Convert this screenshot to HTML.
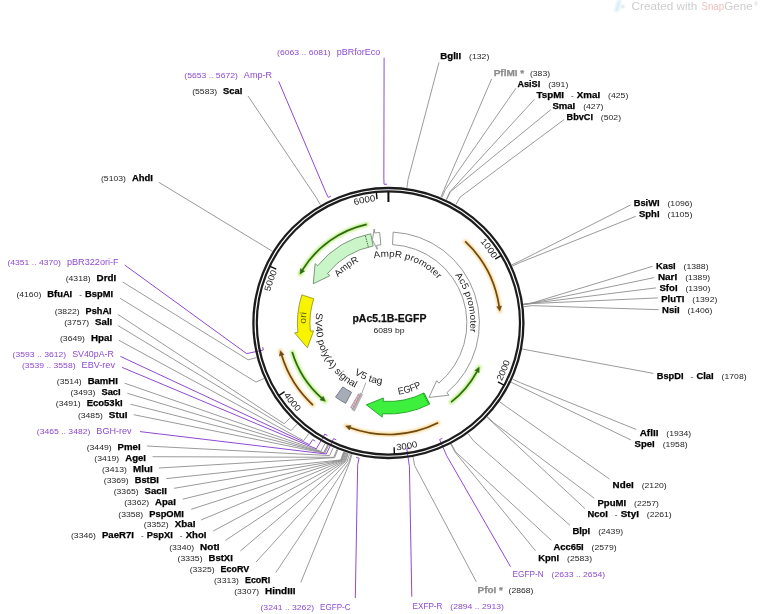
<!DOCTYPE html><html><head><meta charset="utf-8"><style>html,body{margin:0;padding:0;background:#fff;overflow:hidden}svg{display:block;will-change:transform}text{font-family:"Liberation Sans",sans-serif}</style></head><body>
<svg width="760" height="614" viewBox="0 0 760 614" font-family="Liberation Sans, sans-serif">
<defs><filter id="blur" x="-20%" y="-20%" width="140%" height="140%"><feGaussianBlur stdDeviation="1.1"/></filter><filter id="gblur" x="0" y="0" width="760" height="614" filterUnits="userSpaceOnUse"><feGaussianBlur stdDeviation="0.45"/></filter><filter id="blur2" x="-20%" y="-20%" width="140%" height="140%"><feGaussianBlur stdDeviation="0.9"/></filter><pattern id="hatch" width="2.5" height="2.5" patternUnits="userSpaceOnUse" patternTransform="rotate(-30)"><rect width="2.5" height="2.5" fill="#dcc0cc"/><line x1="0" y1="0" x2="0" y2="2.5" stroke="#9a7080" stroke-width="0.9"/></pattern></defs>
<rect width="760" height="614" fill="#fff"/>
<g filter="url(#gblur)">
<g opacity="1">
<path d="M614.3,11.5 L617.6,0 L621.2,0 L618.6,11.5 Z" fill="#d6eef5" filter="url(#blur)"/><circle cx="622.8" cy="6.6" r="1.6" fill="#c9dde8" filter="url(#blur)"/>
<text x="631.60" y="9.90" font-size="11.00" font-weight="normal" fill="#cdcdcd" textLength="65.70" lengthAdjust="spacingAndGlyphs" >Created with</text>
<text x="701.50" y="9.90" font-size="11.00" font-weight="normal" fill="#f3bebe" textLength="22.60" lengthAdjust="spacingAndGlyphs" >Snap</text>
<text x="724.30" y="9.90" font-size="11.00" font-weight="normal" fill="#cdcdcd" textLength="28.30" lengthAdjust="spacingAndGlyphs" >Gene</text>
<text x="754.20" y="5.60" font-size="6.00" font-weight="normal" fill="#cdcdcd" textLength="3.60" lengthAdjust="spacingAndGlyphs" >®</text>
</g>
<path d="M248.10,96.10 L316.08,197.32 L320.42,204.86" fill="none" stroke="#8f8f8f" stroke-width="0.9"/>
<path d="M159.00,182.40 L265.04,246.80 L272.44,251.37" fill="none" stroke="#8f8f8f" stroke-width="0.9"/>
<path d="M122.70,282.00 L248.15,359.81 L256.57,357.60" fill="none" stroke="#8f8f8f" stroke-width="0.9"/>
<path d="M120.00,298.20 L255.99,382.09 L263.93,378.54" fill="none" stroke="#8f8f8f" stroke-width="0.9"/>
<path d="M117.90,314.40 L284.15,423.78 L290.41,417.74" fill="none" stroke="#8f8f8f" stroke-width="0.9"/>
<path d="M117.90,325.50 L291.14,430.54 L296.98,424.09" fill="none" stroke="#8f8f8f" stroke-width="0.9"/>
<path d="M118.90,340.30 L303.70,440.69 L308.79,433.63" fill="none" stroke="#8f8f8f" stroke-width="0.9"/>
<path d="M124.60,383.20 L320.87,451.31 L324.92,443.61" fill="none" stroke="#8f8f8f" stroke-width="0.9"/>
<path d="M127.40,393.30 L323.66,452.75 L327.55,444.96" fill="none" stroke="#8f8f8f" stroke-width="0.9"/>
<path d="M130.50,404.20 L323.93,452.88 L327.80,445.09" fill="none" stroke="#8f8f8f" stroke-width="0.9"/>
<path d="M133.70,414.70 L324.74,453.28 L328.56,445.46" fill="none" stroke="#8f8f8f" stroke-width="0.9"/>
<path d="M146.90,446.00 L329.62,455.55 L333.15,447.60" fill="none" stroke="#8f8f8f" stroke-width="0.9"/>
<path d="M152.60,456.70 L333.75,457.31 L337.03,449.25" fill="none" stroke="#8f8f8f" stroke-width="0.9"/>
<path d="M158.90,468.00 L334.58,457.64 L337.81,449.56" fill="none" stroke="#8f8f8f" stroke-width="0.9"/>
<path d="M166.30,478.60 L340.75,459.95 L343.61,451.73" fill="none" stroke="#8f8f8f" stroke-width="0.9"/>
<path d="M174.10,488.30 L341.31,460.14 L344.14,451.91" fill="none" stroke="#8f8f8f" stroke-width="0.9"/>
<path d="M182.70,499.20 L341.74,460.29 L344.54,452.05" fill="none" stroke="#8f8f8f" stroke-width="0.9"/>
<path d="M191.20,509.30 L342.31,460.48 L345.07,452.23" fill="none" stroke="#8f8f8f" stroke-width="0.9"/>
<path d="M201.00,520.00 L343.16,460.76 L345.87,452.50" fill="none" stroke="#8f8f8f" stroke-width="0.9"/>
<path d="M213.20,531.00 L344.01,461.04 L346.68,452.76" fill="none" stroke="#8f8f8f" stroke-width="0.9"/>
<path d="M225.30,540.50 L344.87,461.31 L347.48,453.01" fill="none" stroke="#8f8f8f" stroke-width="0.9"/>
<path d="M240.30,551.00 L345.58,461.53 L348.15,453.22" fill="none" stroke="#8f8f8f" stroke-width="0.9"/>
<path d="M256.00,562.10 L347.01,461.97 L349.50,453.63" fill="none" stroke="#8f8f8f" stroke-width="0.9"/>
<path d="M275.80,572.60 L348.74,462.47 L351.12,454.10" fill="none" stroke="#8f8f8f" stroke-width="0.9"/>
<path d="M300.80,582.40 L349.60,462.71 L351.93,454.33" fill="none" stroke="#8f8f8f" stroke-width="0.9"/>
<path d="M439.00,62.40 L408.09,179.34 L406.91,187.96" fill="none" stroke="#8f8f8f" stroke-width="0.9"/>
<path d="M491.60,79.00 L444.23,189.18 L440.88,197.21" fill="none" stroke="#8f8f8f" stroke-width="0.9"/>
<path d="M516.00,88.20 L445.33,189.64 L441.91,197.64" fill="none" stroke="#8f8f8f" stroke-width="0.9"/>
<path d="M534.50,99.20 L449.97,191.72 L446.28,199.60" fill="none" stroke="#8f8f8f" stroke-width="0.9"/>
<path d="M550.80,109.70 L450.24,191.85 L446.53,199.72" fill="none" stroke="#8f8f8f" stroke-width="0.9"/>
<path d="M564.20,119.50 L460.20,197.02 L455.89,204.58" fill="none" stroke="#8f8f8f" stroke-width="0.9"/>
<path d="M630.50,205.00 L519.60,261.26 L511.73,264.96" fill="none" stroke="#8f8f8f" stroke-width="0.9"/>
<path d="M635.80,216.30 L520.17,262.48 L512.26,266.11" fill="none" stroke="#8f8f8f" stroke-width="0.9"/>
<path d="M652.60,266.30 L532.01,302.98 L523.39,304.18" fill="none" stroke="#8f8f8f" stroke-width="0.9"/>
<path d="M654.20,277.60 L532.03,303.13 L523.41,304.32" fill="none" stroke="#8f8f8f" stroke-width="0.9"/>
<path d="M656.00,287.90 L532.05,303.27 L523.43,304.46" fill="none" stroke="#8f8f8f" stroke-width="0.9"/>
<path d="M657.90,297.90 L532.09,303.57 L523.47,304.74" fill="none" stroke="#8f8f8f" stroke-width="0.9"/>
<path d="M658.70,309.70 L532.36,305.65 L523.72,306.69" fill="none" stroke="#8f8f8f" stroke-width="0.9"/>
<path d="M653.40,373.40 L530.74,350.62 L522.20,348.97" fill="none" stroke="#8f8f8f" stroke-width="0.9"/>
<path d="M636.30,429.50 L520.51,382.77 L512.58,379.18" fill="none" stroke="#8f8f8f" stroke-width="0.9"/>
<path d="M631.00,440.00 L518.99,386.02 L511.15,382.24" fill="none" stroke="#8f8f8f" stroke-width="0.9"/>
<path d="M609.70,479.20 L506.68,406.87 L499.58,401.84" fill="none" stroke="#8f8f8f" stroke-width="0.9"/>
<path d="M594.20,498.20 L493.68,422.70 L487.37,416.72" fill="none" stroke="#8f8f8f" stroke-width="0.9"/>
<path d="M585.00,508.70 L493.27,423.14 L486.98,417.13" fill="none" stroke="#8f8f8f" stroke-width="0.9"/>
<path d="M570.00,525.30 L473.22,440.61 L468.13,433.55" fill="none" stroke="#8f8f8f" stroke-width="0.9"/>
<path d="M551.30,540.30 L455.40,451.59 L451.38,443.88" fill="none" stroke="#8f8f8f" stroke-width="0.9"/>
<path d="M535.50,550.80 L454.87,451.87 L450.88,444.13" fill="none" stroke="#8f8f8f" stroke-width="0.9"/>
<path d="M476.30,581.80 L414.66,465.60 L413.09,457.05" fill="none" stroke="#8f8f8f" stroke-width="0.9"/>
<path d="M384.10,57.70 L383.85,178.07 L384.04,184.27 L387.04,184.21" fill="none" stroke="#8e4ad2" stroke-width="1.0"/>
<path d="M278.70,81.40 L325.75,192.23 L328.21,197.37 L330.93,196.11" fill="none" stroke="#8e4ad2" stroke-width="1.0"/>
<path d="M124.80,265.10 L246.67,353.63 L263.29,350.04 L262.69,347.10" fill="none" stroke="#8e4ad2" stroke-width="1.0"/>
<path d="M120.40,356.40 L309.45,444.62 L312.71,439.59 L315.25,441.19" fill="none" stroke="#8e4ad2" stroke-width="1.0"/>
<path d="M122.10,367.40 L316.34,448.83 L324.79,434.08 L327.41,435.54" fill="none" stroke="#8e4ad2" stroke-width="1.0"/>
<path d="M140.00,431.60 L326.29,454.02 L333.57,438.66 L336.30,439.91" fill="none" stroke="#8e4ad2" stroke-width="1.0"/>
<path d="M355.30,598.00 L357.66,464.70 L359.08,458.16 L356.16,457.49" fill="none" stroke="#8e4ad2" stroke-width="1.0"/>
<path d="M411.80,596.80 L409.42,466.47 L406.81,448.66 L409.78,448.19" fill="none" stroke="#8e4ad2" stroke-width="1.0"/>
<path d="M510.50,566.60 L446.70,455.76 L439.58,439.56 L442.32,438.32" fill="none" stroke="#8e4ad2" stroke-width="1.0"/>
<circle cx="388.4" cy="323.0" r="135.0" fill="none" stroke="#1c1c1c" stroke-width="2.3"/>
<circle cx="388.4" cy="323.0" r="131.6" fill="none" stroke="#1c1c1c" stroke-width="2.2"/>
<line x1="388.40" y1="191.90" x2="388.40" y2="202.00" stroke="#111" stroke-width="2"/>
<line x1="500.92" y1="255.72" x2="495.17" y2="259.16" stroke="#111" stroke-width="1.4"/>
<path id="tk1" d="M384.93,200.55 A122.50,122.50 0 0 1 492.71,258.77" fill="none"/>
<text font-size="8.87" fill="#1a1a1a"><textPath href="#tk1" startOffset="100%" text-anchor="end" textLength="21.50" lengthAdjust="spacingAndGlyphs">1000</textPath></text>
<line x1="503.89" y1="385.04" x2="497.99" y2="381.87" stroke="#111" stroke-width="1.4"/>
<path id="tk2" d="M501.70,381.26 A127.40,127.40 0 0 0 495.50,254.01" fill="none"/>
<text font-size="8.87" fill="#1a1a1a"><textPath href="#tk2" startOffset="0" textLength="21.50" lengthAdjust="spacingAndGlyphs">2000</textPath></text>
<line x1="394.42" y1="453.96" x2="394.11" y2="447.27" stroke="#111" stroke-width="1.4"/>
<path id="tk3" d="M396.54,450.14 A127.40,127.40 0 0 0 502.58,379.52" fill="none"/>
<text font-size="8.87" fill="#1a1a1a"><textPath href="#tk3" startOffset="0" textLength="21.50" lengthAdjust="spacingAndGlyphs">3000</textPath></text>
<line x1="279.09" y1="395.37" x2="284.67" y2="391.68" stroke="#111" stroke-width="1.4"/>
<path id="tk4" d="M283.46,395.24 A127.40,127.40 0 0 0 398.49,450.00" fill="none"/>
<text font-size="8.87" fill="#1a1a1a"><textPath href="#tk4" startOffset="0" textLength="21.50" lengthAdjust="spacingAndGlyphs">4000</textPath></text>
<line x1="270.18" y1="266.32" x2="276.23" y2="269.22" stroke="#111" stroke-width="1.4"/>
<path id="tk5" d="M288.22,393.50 A122.50,122.50 0 0 1 277.26,271.49" fill="none"/>
<text font-size="8.87" fill="#1a1a1a"><textPath href="#tk5" startOffset="100%" text-anchor="end" textLength="21.50" lengthAdjust="spacingAndGlyphs">5000</textPath></text>
<line x1="376.38" y1="192.45" x2="376.99" y2="199.12" stroke="#111" stroke-width="1.4"/>
<path id="tk6" d="M276.48,273.19 A122.50,122.50 0 0 1 375.57,201.17" fill="none"/>
<text font-size="8.87" fill="#1a1a1a"><textPath href="#tk6" startOffset="100%" text-anchor="end" textLength="21.50" lengthAdjust="spacingAndGlyphs">6000</textPath></text>
<path d="M366.71,224.36 A101.00,101.00 0 0 0 300.06,274.03" fill="none" stroke="#b2ec6c" stroke-width="4.4" stroke-linecap="round" opacity="0.85" filter="url(#blur2)"/>
<path d="M366.71,224.36 A101.00,101.00 0 0 0 302.49,269.89" fill="none" stroke="#2d6a12" stroke-width="1.7"/>
<path d="M300.45,268.63 L300.06,274.03 L304.53,271.15 Z" fill="#2d6a12" stroke="#2d6a12" stroke-width="0.5"/>
<path d="M465.21,241.49 A112.00,112.00 0 0 1 499.77,311.10" fill="none" stroke="#f7d489" stroke-width="4.4" stroke-linecap="round" opacity="0.85" filter="url(#blur2)"/>
<path d="M465.21,241.49 A112.00,112.00 0 0 1 499.15,306.34" fill="none" stroke="#6e4812" stroke-width="1.7"/>
<path d="M501.53,305.98 L499.77,311.10 L496.78,306.70 Z" fill="#6e4812" stroke="#6e4812" stroke-width="0.5"/>
<path d="M451.14,402.15 A101.00,101.00 0 0 0 479.18,367.28" fill="none" stroke="#b2ec6c" stroke-width="4.4" stroke-linecap="round" opacity="0.85" filter="url(#blur2)"/>
<path d="M451.14,402.15 A101.00,101.00 0 0 0 476.97,371.54" fill="none" stroke="#2d6a12" stroke-width="1.7"/>
<path d="M479.08,372.69 L479.18,367.28 L474.87,370.38 Z" fill="#2d6a12" stroke="#2d6a12" stroke-width="0.5"/>
<path d="M438.15,422.79 A111.50,111.50 0 0 1 345.73,426.01" fill="none" stroke="#f7d489" stroke-width="4.4" stroke-linecap="round" opacity="0.85" filter="url(#blur2)"/>
<path d="M438.15,422.79 A111.50,111.50 0 0 1 350.20,427.75" fill="none" stroke="#6e4812" stroke-width="1.7"/>
<path d="M349.38,430.01 L345.73,426.01 L351.03,425.50 Z" fill="#6e4812" stroke="#6e4812" stroke-width="0.5"/>
<path d="M312.93,405.07 A111.50,111.50 0 0 1 280.40,350.73" fill="none" stroke="#f7d489" stroke-width="4.4" stroke-linecap="round" opacity="0.85" filter="url(#blur2)"/>
<path d="M312.93,405.07 A111.50,111.50 0 0 1 281.70,355.35" fill="none" stroke="#6e4812" stroke-width="1.7"/>
<path d="M279.40,356.05 L280.40,350.73 L283.99,354.65 Z" fill="#6e4812" stroke="#6e4812" stroke-width="0.5"/>
<path d="M292.19,352.05 A100.50,100.50 0 0 0 325.29,401.21" fill="none" stroke="#b2ec6c" stroke-width="4.4" stroke-linecap="round" opacity="0.85" filter="url(#blur2)"/>
<path d="M292.19,352.05 A100.50,100.50 0 0 0 321.63,398.11" fill="none" stroke="#2d6a12" stroke-width="1.7"/>
<path d="M320.03,399.90 L325.29,401.21 L323.22,396.32 Z" fill="#2d6a12" stroke="#2d6a12" stroke-width="0.5"/>
<path d="M393.16,232.12 A91.00,91.00 0 0 1 446.89,392.71 L449.01,395.24 L428.97,397.41 L436.74,380.61 L438.86,383.13 A78.50,78.50 0 0 0 392.51,244.61 Z" fill="#ffffff" stroke="#8c8c8c" stroke-width="0.9" stroke-linejoin="miter" />
<path d="M429.71,404.08 A91.00,91.00 0 0 1 382.37,413.80 L382.15,417.09 L366.32,404.82 L383.42,398.03 L383.20,401.33 A78.50,78.50 0 0 0 424.04,392.94 Z" fill="#3cf03c" stroke="#1f9f1f" stroke-width="0.9" stroke-linejoin="miter" />
<path d="M370.72,233.73 A91.00,91.00 0 0 0 317.68,265.73 L315.12,263.66 L313.29,283.74 L329.96,275.68 L327.39,273.60 A78.50,78.50 0 0 1 373.15,246.00 Z" fill="#c9f5c9" stroke="#6f8f6f" stroke-width="0.9" stroke-linejoin="miter" />
<path d="M379.68,232.42 A91.00,91.00 0 0 0 374.79,233.02 L374.19,229.07 L372.37,239.78 L377.26,249.34 L376.66,245.38 A78.50,78.50 0 0 1 380.88,244.86 Z" fill="#ffffff" stroke="#8c8c8c" stroke-width="0.9" stroke-linejoin="miter" />
<path d="M301.85,294.88 A91.00,91.00 0 0 0 297.90,332.51 L294.62,332.86 L307.35,347.78 L313.61,330.86 L310.33,331.21 A78.50,78.50 0 0 1 313.74,298.74 Z" fill="#f8f400" stroke="#9a9620" stroke-width="0.9" stroke-linejoin="miter" />
<path d="M345.68,403.35 A91.00,91.00 0 0 1 335.56,397.08 L342.81,386.91 A78.50,78.50 0 0 0 351.55,392.31 Z" fill="#a6adb8" stroke="#6b7280" stroke-width="0.9" stroke-linejoin="miter" />
<path d="M354.53,411.22 L351.82,409.59 L360.36,393.10 L362.53,394.46 Z" fill="#b8b8b8" stroke="#9a9a9a" stroke-width="0.5"/>
<path d="M352.96,408.98 L350.63,407.44 L358.44,393.93 L360.25,395.21 Z" fill="url(#hatch)" stroke="#a07888" stroke-width="0.6"/>
<line x1="361.54" y1="394.09" x2="365.88" y2="382.59" stroke="#999" stroke-width="0.8"/>
<line x1="368.22" y1="246.62" x2="365.28" y2="235.50" stroke="#2d4d2d" stroke-width="1" stroke-dasharray="1.2,1.2"/>
<line x1="423.53" y1="393.76" x2="428.64" y2="404.06" stroke="#176f17" stroke-width="1" stroke-dasharray="1.2,1.2"/>
<path id="tp1" d="M352.98,267.07 A66.20,66.20 0 0 1 449.93,298.57" fill="none"/>
<text font-size="9.24" font-weight="normal" fill="#262626"><textPath href="#tp1" startOffset="50%" text-anchor="middle" textLength="70.12" lengthAdjust="spacingAndGlyphs">AmpR promoter</textPath></text>
<path id="tp2" d="M325.45,297.28 A68.00,68.00 0 0 1 381.74,255.33" fill="none"/>
<text font-size="9.24" font-weight="normal" fill="#262626"><textPath href="#tp2" startOffset="50%" text-anchor="middle" textLength="26.29" lengthAdjust="spacingAndGlyphs">AmpR</textPath></text>
<path id="tp3" d="M434.54,255.21 A82.00,82.00 0 0 1 461.87,359.41" fill="none"/>
<text font-size="9.24" font-weight="normal" fill="#262626"><textPath href="#tp3" startOffset="50%" text-anchor="middle" textLength="60.28" lengthAdjust="spacingAndGlyphs">Ac5 promoter</textPath></text>
<path id="tp4" d="M373.46,393.74 A72.30,72.30 0 0 0 441.56,372.00" fill="none"/>
<text font-size="9.87" font-weight="normal" fill="#262626"><textPath href="#tp4" startOffset="50%" text-anchor="middle" textLength="24.30" lengthAdjust="spacingAndGlyphs">EGFP</textPath></text>
<path id="tp5" d="M338.62,359.11 A61.50,61.50 0 0 0 403.33,382.66" fill="none"/>
<text font-size="9.66" font-weight="normal" fill="#262626"><textPath href="#tp5" startOffset="50%" text-anchor="middle" textLength="30.16" lengthAdjust="spacingAndGlyphs">V5 tag</textPath></text>
<path id="tp6" d="M324.09,288.87 A72.80,72.80 0 0 0 379.22,395.22" fill="none"/>
<text font-size="9.66" font-weight="normal" fill="#262626"><textPath href="#tp6" startOffset="50%" text-anchor="middle" textLength="89.84" lengthAdjust="spacingAndGlyphs">SV40 poly(A) signal</textPath></text>
<path id="tp7" d="M311.16,351.99 A82.50,82.50 0 0 1 315.14,285.07" fill="none"/>
<text font-size="9.24" font-weight="normal" fill="#5a5400"><textPath href="#tp7" startOffset="50%" text-anchor="middle" textLength="11.45" lengthAdjust="spacingAndGlyphs">ori</textPath></text>
<text x="352.43" y="322.10" font-size="10.30" font-weight="bold" fill="#111" stroke="#111" stroke-width="0.25" textLength="73.95" lengthAdjust="spacingAndGlyphs" >pAc5.1B-EGFP</text>
<text x="373.50" y="332.60" font-size="7.88" font-weight="normal" fill="#222" textLength="30.99" lengthAdjust="spacingAndGlyphs" >6089 bp</text>
<text x="277.10" y="54.60" font-size="7.88" font-weight="normal" fill="#8e4ad2" textLength="53.56" lengthAdjust="spacingAndGlyphs" >(6063 .. 6081)</text>
<text x="336.66" y="54.60" font-size="8.82" font-weight="normal" fill="#8e4ad2" textLength="43.55" lengthAdjust="spacingAndGlyphs" >pBRforEco</text>
<text x="184.30" y="77.80" font-size="7.88" font-weight="normal" fill="#8e4ad2" textLength="53.56" lengthAdjust="spacingAndGlyphs" >(5653 .. 5672)</text>
<text x="243.86" y="77.80" font-size="8.82" font-weight="normal" fill="#8e4ad2" textLength="28.13" lengthAdjust="spacingAndGlyphs" >Amp-R</text>
<text x="192.20" y="94.30" font-size="7.88" font-weight="normal" fill="#262626" textLength="24.94" lengthAdjust="spacingAndGlyphs" >(5583)</text>
<text x="223.14" y="94.30" font-size="8.56" font-weight="bold" fill="#000" stroke="#000" stroke-width="0.25" textLength="19.23" lengthAdjust="spacingAndGlyphs" >ScaI</text>
<text x="101.00" y="181.00" font-size="7.88" font-weight="normal" fill="#262626" textLength="24.94" lengthAdjust="spacingAndGlyphs" >(5103)</text>
<text x="131.94" y="181.00" font-size="8.56" font-weight="bold" fill="#000" stroke="#000" stroke-width="0.25" textLength="20.98" lengthAdjust="spacingAndGlyphs" >AhdI</text>
<text x="7.40" y="265.10" font-size="7.88" font-weight="normal" fill="#8e4ad2" textLength="53.56" lengthAdjust="spacingAndGlyphs" >(4351 .. 4370)</text>
<text x="66.96" y="265.10" font-size="8.82" font-weight="normal" fill="#8e4ad2" textLength="51.75" lengthAdjust="spacingAndGlyphs" >pBR322ori-F</text>
<text x="65.70" y="281.00" font-size="7.88" font-weight="normal" fill="#262626" textLength="24.94" lengthAdjust="spacingAndGlyphs" >(4318)</text>
<text x="96.64" y="281.00" font-size="8.56" font-weight="bold" fill="#000" stroke="#000" stroke-width="0.25" textLength="19.65" lengthAdjust="spacingAndGlyphs" >DrdI</text>
<text x="16.40" y="297.40" font-size="7.88" font-weight="normal" fill="#262626" textLength="24.94" lengthAdjust="spacingAndGlyphs" >(4160)</text>
<text x="47.34" y="297.40" font-size="8.56" font-weight="bold" fill="#000" stroke="#000" stroke-width="0.25" textLength="24.90" lengthAdjust="spacingAndGlyphs" >BfuAI</text>
<text x="79.24" y="297.40" font-size="7.88" font-weight="normal" fill="#262626" textLength="2.71" lengthAdjust="spacingAndGlyphs" >-</text>
<text x="85.14" y="297.40" font-size="8.56" font-weight="bold" fill="#000" stroke="#000" stroke-width="0.25" textLength="28.04" lengthAdjust="spacingAndGlyphs" >BspMI</text>
<text x="54.70" y="313.60" font-size="7.88" font-weight="normal" fill="#262626" textLength="24.94" lengthAdjust="spacingAndGlyphs" >(3822)</text>
<text x="85.64" y="313.60" font-size="8.56" font-weight="bold" fill="#000" stroke="#000" stroke-width="0.25" textLength="25.97" lengthAdjust="spacingAndGlyphs" >PshAI</text>
<text x="64.20" y="324.70" font-size="7.88" font-weight="normal" fill="#262626" textLength="24.94" lengthAdjust="spacingAndGlyphs" >(3757)</text>
<text x="95.14" y="324.70" font-size="8.56" font-weight="bold" fill="#000" stroke="#000" stroke-width="0.25" textLength="17.20" lengthAdjust="spacingAndGlyphs" >SalI</text>
<text x="60.00" y="340.50" font-size="7.88" font-weight="normal" fill="#262626" textLength="24.94" lengthAdjust="spacingAndGlyphs" >(3649)</text>
<text x="90.94" y="340.50" font-size="8.56" font-weight="bold" fill="#000" stroke="#000" stroke-width="0.25" textLength="21.19" lengthAdjust="spacingAndGlyphs" >HpaI</text>
<text x="56.80" y="384.20" font-size="7.88" font-weight="normal" fill="#262626" textLength="24.94" lengthAdjust="spacingAndGlyphs" >(3514)</text>
<text x="87.74" y="384.20" font-size="8.56" font-weight="bold" fill="#000" stroke="#000" stroke-width="0.25" textLength="30.06" lengthAdjust="spacingAndGlyphs" >BamHI</text>
<text x="70.50" y="395.40" font-size="7.88" font-weight="normal" fill="#262626" textLength="24.94" lengthAdjust="spacingAndGlyphs" >(3493)</text>
<text x="101.44" y="395.40" font-size="8.56" font-weight="bold" fill="#000" stroke="#000" stroke-width="0.25" textLength="19.23" lengthAdjust="spacingAndGlyphs" >SacI</text>
<text x="55.80" y="406.30" font-size="7.88" font-weight="normal" fill="#262626" textLength="24.94" lengthAdjust="spacingAndGlyphs" >(3491)</text>
<text x="86.74" y="406.30" font-size="8.56" font-weight="bold" fill="#000" stroke="#000" stroke-width="0.25" textLength="35.79" lengthAdjust="spacingAndGlyphs" >Eco53kI</text>
<text x="77.90" y="417.50" font-size="7.88" font-weight="normal" fill="#262626" textLength="24.94" lengthAdjust="spacingAndGlyphs" >(3485)</text>
<text x="108.84" y="417.50" font-size="8.56" font-weight="bold" fill="#000" stroke="#000" stroke-width="0.25" textLength="18.60" lengthAdjust="spacingAndGlyphs" >StuI</text>
<text x="86.70" y="449.70" font-size="7.88" font-weight="normal" fill="#262626" textLength="24.94" lengthAdjust="spacingAndGlyphs" >(3449)</text>
<text x="117.64" y="449.70" font-size="8.56" font-weight="bold" fill="#000" stroke="#000" stroke-width="0.25" textLength="23.03" lengthAdjust="spacingAndGlyphs" >PmeI</text>
<text x="94.30" y="460.90" font-size="7.88" font-weight="normal" fill="#262626" textLength="24.94" lengthAdjust="spacingAndGlyphs" >(3419)</text>
<text x="125.24" y="460.90" font-size="8.56" font-weight="bold" fill="#000" stroke="#000" stroke-width="0.25" textLength="20.70" lengthAdjust="spacingAndGlyphs" >AgeI</text>
<text x="102.00" y="472.00" font-size="7.88" font-weight="normal" fill="#262626" textLength="24.94" lengthAdjust="spacingAndGlyphs" >(3413)</text>
<text x="132.94" y="472.00" font-size="8.56" font-weight="bold" fill="#000" stroke="#000" stroke-width="0.25" textLength="19.74" lengthAdjust="spacingAndGlyphs" >MluI</text>
<text x="103.80" y="483.00" font-size="7.88" font-weight="normal" fill="#262626" textLength="24.94" lengthAdjust="spacingAndGlyphs" >(3369)</text>
<text x="134.74" y="483.00" font-size="8.56" font-weight="bold" fill="#000" stroke="#000" stroke-width="0.25" textLength="24.20" lengthAdjust="spacingAndGlyphs" >BstBI</text>
<text x="113.70" y="494.00" font-size="7.88" font-weight="normal" fill="#262626" textLength="24.94" lengthAdjust="spacingAndGlyphs" >(3365)</text>
<text x="144.64" y="494.00" font-size="8.56" font-weight="bold" fill="#000" stroke="#000" stroke-width="0.25" textLength="22.27" lengthAdjust="spacingAndGlyphs" >SacII</text>
<text x="124.20" y="505.10" font-size="7.88" font-weight="normal" fill="#262626" textLength="24.94" lengthAdjust="spacingAndGlyphs" >(3362)</text>
<text x="155.14" y="505.10" font-size="8.56" font-weight="bold" fill="#000" stroke="#000" stroke-width="0.25" textLength="20.67" lengthAdjust="spacingAndGlyphs" >ApaI</text>
<text x="118.30" y="516.50" font-size="7.88" font-weight="normal" fill="#262626" textLength="24.94" lengthAdjust="spacingAndGlyphs" >(3358)</text>
<text x="149.24" y="516.50" font-size="8.56" font-weight="bold" fill="#000" stroke="#000" stroke-width="0.25" textLength="34.73" lengthAdjust="spacingAndGlyphs" >PspOMI</text>
<text x="143.80" y="527.20" font-size="7.88" font-weight="normal" fill="#262626" textLength="24.94" lengthAdjust="spacingAndGlyphs" >(3352)</text>
<text x="174.74" y="527.20" font-size="8.56" font-weight="bold" fill="#000" stroke="#000" stroke-width="0.25" textLength="20.65" lengthAdjust="spacingAndGlyphs" >XbaI</text>
<text x="71.00" y="538.40" font-size="7.88" font-weight="normal" fill="#262626" textLength="24.94" lengthAdjust="spacingAndGlyphs" >(3346)</text>
<text x="101.94" y="538.40" font-size="8.56" font-weight="bold" fill="#000" stroke="#000" stroke-width="0.25" textLength="31.98" lengthAdjust="spacingAndGlyphs" >PaeR7I</text>
<text x="140.92" y="538.40" font-size="7.88" font-weight="normal" fill="#262626" textLength="2.71" lengthAdjust="spacingAndGlyphs" >-</text>
<text x="146.82" y="538.40" font-size="8.56" font-weight="bold" fill="#000" stroke="#000" stroke-width="0.25" textLength="25.97" lengthAdjust="spacingAndGlyphs" >PspXI</text>
<text x="179.80" y="538.40" font-size="7.88" font-weight="normal" fill="#262626" textLength="2.71" lengthAdjust="spacingAndGlyphs" >-</text>
<text x="185.70" y="538.40" font-size="8.56" font-weight="bold" fill="#000" stroke="#000" stroke-width="0.25" textLength="20.72" lengthAdjust="spacingAndGlyphs" >XhoI</text>
<text x="169.20" y="549.50" font-size="7.88" font-weight="normal" fill="#262626" textLength="24.94" lengthAdjust="spacingAndGlyphs" >(3340)</text>
<text x="200.14" y="549.50" font-size="8.56" font-weight="bold" fill="#000" stroke="#000" stroke-width="0.25" textLength="19.35" lengthAdjust="spacingAndGlyphs" >NotI</text>
<text x="177.60" y="560.80" font-size="7.88" font-weight="normal" fill="#262626" textLength="24.94" lengthAdjust="spacingAndGlyphs" >(3335)</text>
<text x="208.54" y="560.80" font-size="8.56" font-weight="bold" fill="#000" stroke="#000" stroke-width="0.25" textLength="24.27" lengthAdjust="spacingAndGlyphs" >BstXI</text>
<text x="189.70" y="571.80" font-size="7.88" font-weight="normal" fill="#262626" textLength="24.94" lengthAdjust="spacingAndGlyphs" >(3325)</text>
<text x="220.64" y="571.80" font-size="8.56" font-weight="bold" fill="#000" stroke="#000" stroke-width="0.25" textLength="28.58" lengthAdjust="spacingAndGlyphs" >EcoRV</text>
<text x="214.00" y="583.00" font-size="7.88" font-weight="normal" fill="#262626" textLength="24.94" lengthAdjust="spacingAndGlyphs" >(3313)</text>
<text x="244.94" y="583.00" font-size="8.56" font-weight="bold" fill="#000" stroke="#000" stroke-width="0.25" textLength="25.31" lengthAdjust="spacingAndGlyphs" >EcoRI</text>
<text x="234.20" y="594.20" font-size="7.88" font-weight="normal" fill="#262626" textLength="24.94" lengthAdjust="spacingAndGlyphs" >(3307)</text>
<text x="265.14" y="594.20" font-size="8.56" font-weight="bold" fill="#000" stroke="#000" stroke-width="0.25" textLength="30.35" lengthAdjust="spacingAndGlyphs" >HindIII</text>
<text x="12.60" y="357.30" font-size="7.88" font-weight="normal" fill="#8e4ad2" textLength="53.56" lengthAdjust="spacingAndGlyphs" >(3593 .. 3612)</text>
<text x="72.16" y="357.30" font-size="8.82" font-weight="normal" fill="#8e4ad2" textLength="41.71" lengthAdjust="spacingAndGlyphs" >SV40pA-R</text>
<text x="22.00" y="368.00" font-size="7.88" font-weight="normal" fill="#8e4ad2" textLength="53.56" lengthAdjust="spacingAndGlyphs" >(3539 .. 3558)</text>
<text x="81.56" y="368.00" font-size="8.82" font-weight="normal" fill="#8e4ad2" textLength="33.44" lengthAdjust="spacingAndGlyphs" >EBV-rev</text>
<text x="36.80" y="433.70" font-size="7.88" font-weight="normal" fill="#8e4ad2" textLength="53.56" lengthAdjust="spacingAndGlyphs" >(3465 .. 3482)</text>
<text x="96.36" y="433.70" font-size="8.82" font-weight="normal" fill="#8e4ad2" textLength="35.21" lengthAdjust="spacingAndGlyphs" >BGH-rev</text>
<text x="260.50" y="610.00" font-size="7.88" font-weight="normal" fill="#8e4ad2" textLength="53.56" lengthAdjust="spacingAndGlyphs" >(3241 .. 3262)</text>
<text x="320.06" y="610.00" font-size="8.82" font-weight="normal" fill="#8e4ad2" textLength="30.61" lengthAdjust="spacingAndGlyphs" >EGFP-C</text>
<text x="440.30" y="59.20" font-size="8.56" font-weight="bold" fill="#000" stroke="#000" stroke-width="0.25" textLength="20.90" lengthAdjust="spacingAndGlyphs" >BglII</text>
<text x="469.10" y="59.20" font-size="7.88" font-weight="normal" fill="#262626" textLength="20.17" lengthAdjust="spacingAndGlyphs" >(132)</text>
<text x="493.70" y="75.50" font-size="8.56" font-weight="bold" fill="#8c8c8c" stroke="#8c8c8c" stroke-width="0.25" textLength="30.55" lengthAdjust="spacingAndGlyphs" >PflMI *</text>
<text x="529.95" y="75.50" font-size="7.88" font-weight="normal" fill="#262626" textLength="20.17" lengthAdjust="spacingAndGlyphs" >(383)</text>
<text x="517.40" y="86.60" font-size="8.56" font-weight="bold" fill="#000" stroke="#000" stroke-width="0.25" textLength="22.85" lengthAdjust="spacingAndGlyphs" >AsiSI</text>
<text x="548.15" y="86.60" font-size="7.88" font-weight="normal" fill="#262626" textLength="20.17" lengthAdjust="spacingAndGlyphs" >(391)</text>
<text x="536.60" y="97.90" font-size="8.56" font-weight="bold" fill="#000" stroke="#000" stroke-width="0.25" textLength="27.39" lengthAdjust="spacingAndGlyphs" >TspMI</text>
<text x="570.99" y="97.90" font-size="7.88" font-weight="normal" fill="#262626" textLength="2.71" lengthAdjust="spacingAndGlyphs" >-</text>
<text x="576.89" y="97.90" font-size="8.56" font-weight="bold" fill="#000" stroke="#000" stroke-width="0.25" textLength="23.31" lengthAdjust="spacingAndGlyphs" >XmaI</text>
<text x="608.10" y="97.90" font-size="7.88" font-weight="normal" fill="#262626" textLength="20.17" lengthAdjust="spacingAndGlyphs" >(425)</text>
<text x="552.40" y="109.00" font-size="8.56" font-weight="bold" fill="#000" stroke="#000" stroke-width="0.25" textLength="22.89" lengthAdjust="spacingAndGlyphs" >SmaI</text>
<text x="583.19" y="109.00" font-size="7.88" font-weight="normal" fill="#262626" textLength="20.17" lengthAdjust="spacingAndGlyphs" >(427)</text>
<text x="566.60" y="119.70" font-size="8.56" font-weight="bold" fill="#000" stroke="#000" stroke-width="0.25" textLength="26.37" lengthAdjust="spacingAndGlyphs" >BbvCI</text>
<text x="600.87" y="119.70" font-size="7.88" font-weight="normal" fill="#262626" textLength="20.17" lengthAdjust="spacingAndGlyphs" >(502)</text>
<text x="633.70" y="205.80" font-size="8.56" font-weight="bold" fill="#000" stroke="#000" stroke-width="0.25" textLength="25.88" lengthAdjust="spacingAndGlyphs" >BsiWI</text>
<text x="667.48" y="205.80" font-size="7.88" font-weight="normal" fill="#262626" textLength="24.94" lengthAdjust="spacingAndGlyphs" >(1096)</text>
<text x="639.00" y="217.10" font-size="8.56" font-weight="bold" fill="#000" stroke="#000" stroke-width="0.25" textLength="20.54" lengthAdjust="spacingAndGlyphs" >SphI</text>
<text x="667.44" y="217.10" font-size="7.88" font-weight="normal" fill="#262626" textLength="24.94" lengthAdjust="spacingAndGlyphs" >(1105)</text>
<text x="656.00" y="269.00" font-size="8.56" font-weight="bold" fill="#000" stroke="#000" stroke-width="0.25" textLength="19.70" lengthAdjust="spacingAndGlyphs" >KasI</text>
<text x="683.60" y="269.00" font-size="7.88" font-weight="normal" fill="#262626" textLength="24.94" lengthAdjust="spacingAndGlyphs" >(1388)</text>
<text x="657.90" y="280.30" font-size="8.56" font-weight="bold" fill="#000" stroke="#000" stroke-width="0.25" textLength="19.37" lengthAdjust="spacingAndGlyphs" >NarI</text>
<text x="685.17" y="280.30" font-size="7.88" font-weight="normal" fill="#262626" textLength="24.94" lengthAdjust="spacingAndGlyphs" >(1389)</text>
<text x="659.50" y="291.30" font-size="8.56" font-weight="bold" fill="#000" stroke="#000" stroke-width="0.25" textLength="18.05" lengthAdjust="spacingAndGlyphs" >SfoI</text>
<text x="685.45" y="291.30" font-size="7.88" font-weight="normal" fill="#262626" textLength="24.94" lengthAdjust="spacingAndGlyphs" >(1390)</text>
<text x="661.30" y="302.40" font-size="8.56" font-weight="bold" fill="#000" stroke="#000" stroke-width="0.25" textLength="23.16" lengthAdjust="spacingAndGlyphs" >PluTI</text>
<text x="692.36" y="302.40" font-size="7.88" font-weight="normal" fill="#262626" textLength="24.94" lengthAdjust="spacingAndGlyphs" >(1392)</text>
<text x="662.10" y="313.20" font-size="8.56" font-weight="bold" fill="#000" stroke="#000" stroke-width="0.25" textLength="17.50" lengthAdjust="spacingAndGlyphs" >NsiI</text>
<text x="687.50" y="313.20" font-size="7.88" font-weight="normal" fill="#262626" textLength="24.94" lengthAdjust="spacingAndGlyphs" >(1406)</text>
<text x="656.80" y="379.00" font-size="8.56" font-weight="bold" fill="#000" stroke="#000" stroke-width="0.25" textLength="26.69" lengthAdjust="spacingAndGlyphs" >BspDI</text>
<text x="690.49" y="379.00" font-size="7.88" font-weight="normal" fill="#262626" textLength="2.71" lengthAdjust="spacingAndGlyphs" >-</text>
<text x="696.40" y="379.00" font-size="8.56" font-weight="bold" fill="#000" stroke="#000" stroke-width="0.25" textLength="17.31" lengthAdjust="spacingAndGlyphs" >ClaI</text>
<text x="721.61" y="379.00" font-size="7.88" font-weight="normal" fill="#262626" textLength="24.94" lengthAdjust="spacingAndGlyphs" >(1708)</text>
<text x="639.70" y="436.30" font-size="8.56" font-weight="bold" fill="#000" stroke="#000" stroke-width="0.25" textLength="18.71" lengthAdjust="spacingAndGlyphs" >AflII</text>
<text x="666.31" y="436.30" font-size="7.88" font-weight="normal" fill="#262626" textLength="24.94" lengthAdjust="spacingAndGlyphs" >(1934)</text>
<text x="634.50" y="447.40" font-size="8.56" font-weight="bold" fill="#000" stroke="#000" stroke-width="0.25" textLength="20.26" lengthAdjust="spacingAndGlyphs" >SpeI</text>
<text x="662.66" y="447.40" font-size="7.88" font-weight="normal" fill="#262626" textLength="24.94" lengthAdjust="spacingAndGlyphs" >(1958)</text>
<text x="612.60" y="487.60" font-size="8.56" font-weight="bold" fill="#000" stroke="#000" stroke-width="0.25" textLength="21.21" lengthAdjust="spacingAndGlyphs" >NdeI</text>
<text x="641.71" y="487.60" font-size="7.88" font-weight="normal" fill="#262626" textLength="24.94" lengthAdjust="spacingAndGlyphs" >(2120)</text>
<text x="597.40" y="506.00" font-size="8.56" font-weight="bold" fill="#000" stroke="#000" stroke-width="0.25" textLength="28.75" lengthAdjust="spacingAndGlyphs" >PpuMI</text>
<text x="634.05" y="506.00" font-size="7.88" font-weight="normal" fill="#262626" textLength="24.94" lengthAdjust="spacingAndGlyphs" >(2257)</text>
<text x="587.60" y="517.40" font-size="8.56" font-weight="bold" fill="#000" stroke="#000" stroke-width="0.25" textLength="20.28" lengthAdjust="spacingAndGlyphs" >NcoI</text>
<text x="614.88" y="517.40" font-size="7.88" font-weight="normal" fill="#262626" textLength="2.71" lengthAdjust="spacingAndGlyphs" >-</text>
<text x="620.79" y="517.40" font-size="8.56" font-weight="bold" fill="#000" stroke="#000" stroke-width="0.25" textLength="18.11" lengthAdjust="spacingAndGlyphs" >StyI</text>
<text x="646.80" y="517.40" font-size="7.88" font-weight="normal" fill="#262626" textLength="24.94" lengthAdjust="spacingAndGlyphs" >(2261)</text>
<text x="572.40" y="533.70" font-size="8.56" font-weight="bold" fill="#000" stroke="#000" stroke-width="0.25" textLength="17.87" lengthAdjust="spacingAndGlyphs" >BlpI</text>
<text x="598.17" y="533.70" font-size="7.88" font-weight="normal" fill="#262626" textLength="24.94" lengthAdjust="spacingAndGlyphs" >(2439)</text>
<text x="553.40" y="549.50" font-size="8.56" font-weight="bold" fill="#000" stroke="#000" stroke-width="0.25" textLength="30.34" lengthAdjust="spacingAndGlyphs" >Acc65I</text>
<text x="591.64" y="549.50" font-size="7.88" font-weight="normal" fill="#262626" textLength="24.94" lengthAdjust="spacingAndGlyphs" >(2579)</text>
<text x="538.20" y="560.80" font-size="8.56" font-weight="bold" fill="#000" stroke="#000" stroke-width="0.25" textLength="20.98" lengthAdjust="spacingAndGlyphs" >KpnI</text>
<text x="567.08" y="560.80" font-size="7.88" font-weight="normal" fill="#262626" textLength="24.94" lengthAdjust="spacingAndGlyphs" >(2583)</text>
<text x="477.60" y="592.90" font-size="8.56" font-weight="bold" fill="#8c8c8c" stroke="#8c8c8c" stroke-width="0.25" textLength="25.25" lengthAdjust="spacingAndGlyphs" >PfoI *</text>
<text x="508.55" y="592.90" font-size="7.88" font-weight="normal" fill="#262626" textLength="24.94" lengthAdjust="spacingAndGlyphs" >(2868)</text>
<text x="512.60" y="577.10" font-size="8.82" font-weight="normal" fill="#8e4ad2" textLength="31.03" lengthAdjust="spacingAndGlyphs" >EGFP-N</text>
<text x="551.53" y="577.10" font-size="7.88" font-weight="normal" fill="#8e4ad2" textLength="53.56" lengthAdjust="spacingAndGlyphs" >(2633 .. 2654)</text>
<text x="412.60" y="609.20" font-size="8.82" font-weight="normal" fill="#8e4ad2" textLength="29.83" lengthAdjust="spacingAndGlyphs" >EXFP-R</text>
<text x="450.33" y="609.20" font-size="7.88" font-weight="normal" fill="#8e4ad2" textLength="53.56" lengthAdjust="spacingAndGlyphs" >(2894 .. 2913)</text>
</g>
</svg>
</body></html>
